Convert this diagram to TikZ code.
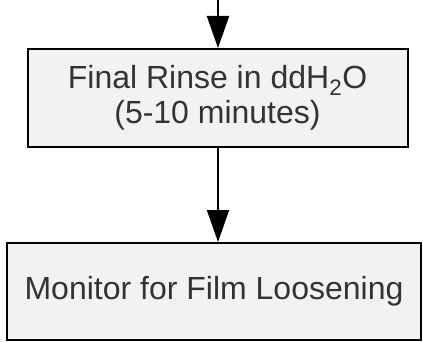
\documentclass[tikz,border=0pt]{standalone}
\usepackage{fontspec}
\setmainfont{Liberation Sans}
\usepackage{tikz}
\usetikzlibrary{arrows.meta,positioning}
\definecolor{boxfill}{HTML}{F1F2F4}
\definecolor{boxtext}{HTML}{333333}

\begin{document}
\begin{tikzpicture}[
          x=1pt, y=-1pt,
          every node/.style={rectangle, draw, line width=2pt, fill=boxfill,
            text=boxtext, align=center,
            font=\fontsize{32}{35}\selectfont},
          flow/.style={-{Triangle[length=32pt,width=22pt]}, line width=2pt},
          node distance=94pt
        ]
        \useasboundingbox (0,0) rectangle (423,342);

        % Steps
        \node[minimum width=380pt, minimum height=98pt] (rinse) at (217.5,98)
          {Final Rinse in ddH\textsubscript{2}O\\(5-10 minutes)};
        \node[below=of rinse, xshift=-3.5pt, minimum width=414pt, minimum height=97pt] (monitor)
          {Monitor for Film Loosening};

        % Incoming edge from above
        \coordinate (incoming) at (218,0);

        % Directed edges
        \draw[flow] (incoming) -- (incoming |- rinse.north);
        \draw[flow] (rinse.south -| incoming) -- (incoming |- monitor.north);

      \end{tikzpicture}
\end{document}
